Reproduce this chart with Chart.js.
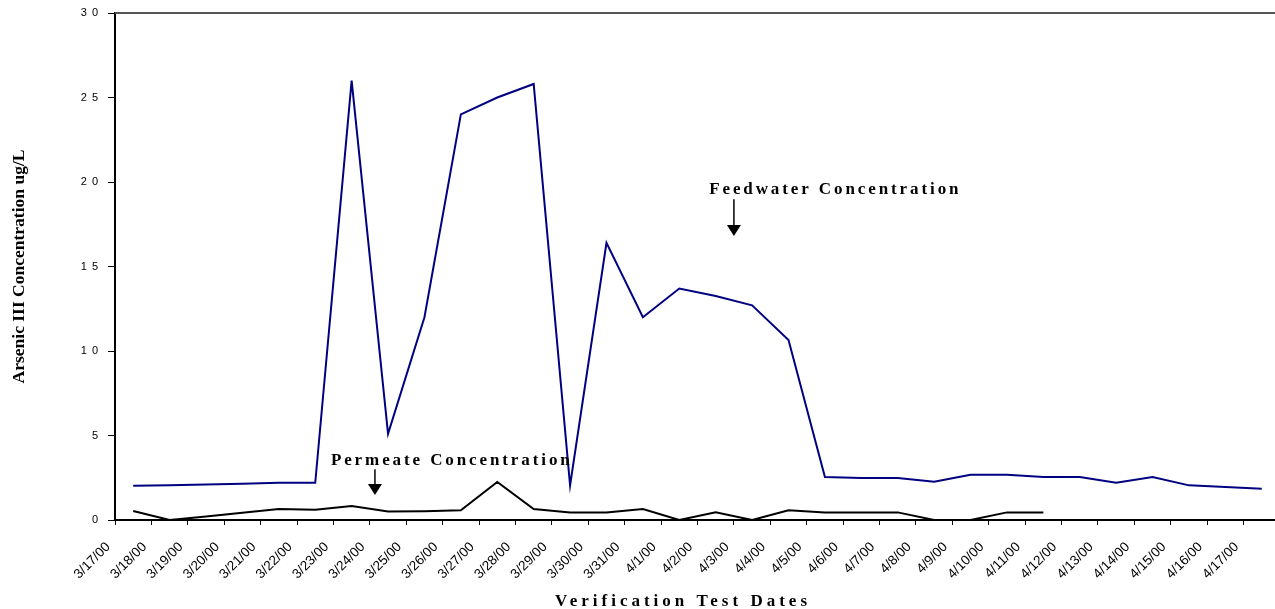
<!DOCTYPE html>
<html>
<head>
<meta charset="utf-8">
<script src="https://cdn.jsdelivr.net/npm/chart.js@4/dist/chart.umd.min.js"></script>
<style>
  html, body { margin: 0; padding: 0; background: #fff; overflow: hidden; }
  canvas { display: block; }
</style>
</head>
<body>
<canvas id="chart" width="1280" height="609"></canvas>
<script>
// test dates (category labels)
var dates = [
  '3/17/00', '3/18/00', '3/19/00', '3/20/00', '3/21/00', '3/22/00', '3/23/00', '3/24/00',
  '3/25/00', '3/26/00', '3/27/00', '3/28/00', '3/29/00', '3/30/00', '3/31/00', '4/1/00',
  '4/2/00', '4/3/00', '4/4/00', '4/5/00', '4/6/00', '4/7/00', '4/8/00', '4/9/00',
  '4/10/00', '4/11/00', '4/12/00', '4/13/00', '4/14/00', '4/15/00', '4/16/00', '4/17/00'
];

// arsenic III, ug/L
var feedwater = [
  2.03, 2.05, 2.1, 2.15, 2.2, 2.2, 26.0, 5.1,
  12.0, 24.0, 25.0, 25.8, 2.05, 16.4, 12.0, 13.7,
  13.25, 12.7, 10.65, 2.55, 2.48, 2.48, 2.27, 2.68,
  2.68, 2.55, 2.55, 2.2, 2.55, 2.05, 1.95, 1.85
];
var permeate = [
  0.53, 0, 0.2, 0.43, 0.65, 0.6, 0.83, 0.5,
  0.52, 0.58, 2.25, 0.65, 0.45, 0.45, 0.65, 0,
  0.45, 0, 0.57, 0.45, 0.45, 0.45, 0, 0,
  0.45, 0.45, null, 0, 0, 0, 0, 0
];

var yTicks = [0, 5, 10, 15, 20, 25, 30];

// callouts: text start (category index), baseline value, arrow index, arrow top / tip values
var feedNote = { text: 'Feedwater Concentration', x: 15.82, y: 19.29, arrowX: 16.5, top: 18.98, tip: 16.8 };
var permNote = { text: 'Permeate Concentration', x: 5.43, y: 3.25, arrowX: 6.64, top: 3.0, tip: 1.48 };

var serif = '"Liberation Serif", "Times New Roman", serif';
var sans = '"Liberation Sans", Arial, sans-serif';

function spacedText(ctx, text, x, y, spacing, align) {
  ctx.save();
  ctx.letterSpacing = spacing + 'px';
  ctx.textAlign = align || 'left';
  ctx.fillText(text, x, y);
  ctx.restore();
}

function drawNote(ctx, xs, ys, n) {
  ctx.fillStyle = '#000';
  ctx.strokeStyle = '#000';
  ctx.font = 'bold 17px ' + serif;
  ctx.textBaseline = 'alphabetic';
  spacedText(ctx, n.text, xs.getPixelForValue(n.x), ys.getPixelForValue(n.y), 2.9);

  var ax = xs.getPixelForValue(n.arrowX);
  var top = ys.getPixelForValue(n.top);
  var tip = ys.getPixelForValue(n.tip);
  ctx.lineWidth = 1.5;
  ctx.beginPath();
  ctx.moveTo(ax, top);
  ctx.lineTo(ax, tip - 8);
  ctx.stroke();
  ctx.beginPath();
  ctx.moveTo(ax - 7, tip - 11);
  ctx.lineTo(ax + 7, tip - 11);
  ctx.lineTo(ax, tip);
  ctx.closePath();
  ctx.fill();
}

var extras = {
  id: 'extras',
  afterDraw: function (chart) {
    var ctx = chart.ctx;
    var area = chart.chartArea;
    var xs = chart.scales.x;
    var ys = chart.scales.y;
    ctx.save();

    // top frame line
    ctx.strokeStyle = '#555';
    ctx.lineWidth = 2;
    ctx.beginPath();
    ctx.moveTo(area.left, area.top);
    ctx.lineTo(area.right, area.top);
    ctx.stroke();

    // y tick labels, letter spaced
    ctx.fillStyle = '#000';
    ctx.font = '11px ' + sans;
    ctx.textBaseline = 'middle';
    yTicks.forEach(function (v) {
      spacedText(ctx, String(v), 103, ys.getPixelForValue(v), 5, 'right');
    });

    // x title
    ctx.font = 'bold 17px ' + serif;
    ctx.textBaseline = 'alphabetic';
    spacedText(ctx, 'Verification Test Dates', 683, 606, 4, 'center');

    drawNote(ctx, xs, ys, feedNote);
    drawNote(ctx, xs, ys, permNote);
    ctx.restore();
  }
};

new Chart(document.getElementById('chart'), {
  type: 'line',
  data: {
    labels: dates,
    datasets: [
      {
        label: 'Feedwater Concentration',
        data: feedwater,
        borderColor: '#000080',
        borderWidth: 2,
        pointRadius: 0,
        fill: false,
        tension: 0
      },
      {
        label: 'Permeate Concentration',
        data: permeate,
        borderColor: '#000',
        borderWidth: 2,
        pointRadius: 0,
        fill: false,
        tension: 0,
        spanGaps: false
      }
    ]
  },
  options: {
    responsive: false,
    animation: false,
    events: [],
    layout: { padding: { top: 13, left: 0, right: 0, bottom: 0 } },
    plugins: {
      legend: { display: false },
      tooltip: { enabled: false }
    },
    scales: {
      x: {
        offset: true,
        grid: { offset: true, drawOnChartArea: false, color: '#000', tickLength: 5 },
        border: { color: '#000', width: 2 },
        ticks: {
          autoSkip: false,
          minRotation: 45,
          maxRotation: 45,
          labelOffset: -25,
          padding: 14,
          color: '#000',
          font: { family: sans, size: 13.5 }
        },
        afterFit: function (s) {
          s.height = 89;
          s.paddingLeft = 0;
          s.paddingRight = 0;
        }
      },
      y: {
        min: 0,
        max: 30,
        ticks: { stepSize: 5, display: false },
        grid: { drawOnChartArea: false, color: '#000', tickLength: 7 },
        border: { color: '#000', width: 2 },
        title: {
          display: true,
          text: 'Arsenic III Concentration ug/L',
          color: '#000',
          font: { family: serif, size: 17.5, weight: 'bold' },
          padding: { top: 9, bottom: 0 }
        },
        afterFit: function (s) {
          s.width = 115;
          s.paddingTop = 0;
          s.paddingBottom = 0;
        }
      }
    }
  },
  plugins: [extras]
});
</script>
</body>
</html>
